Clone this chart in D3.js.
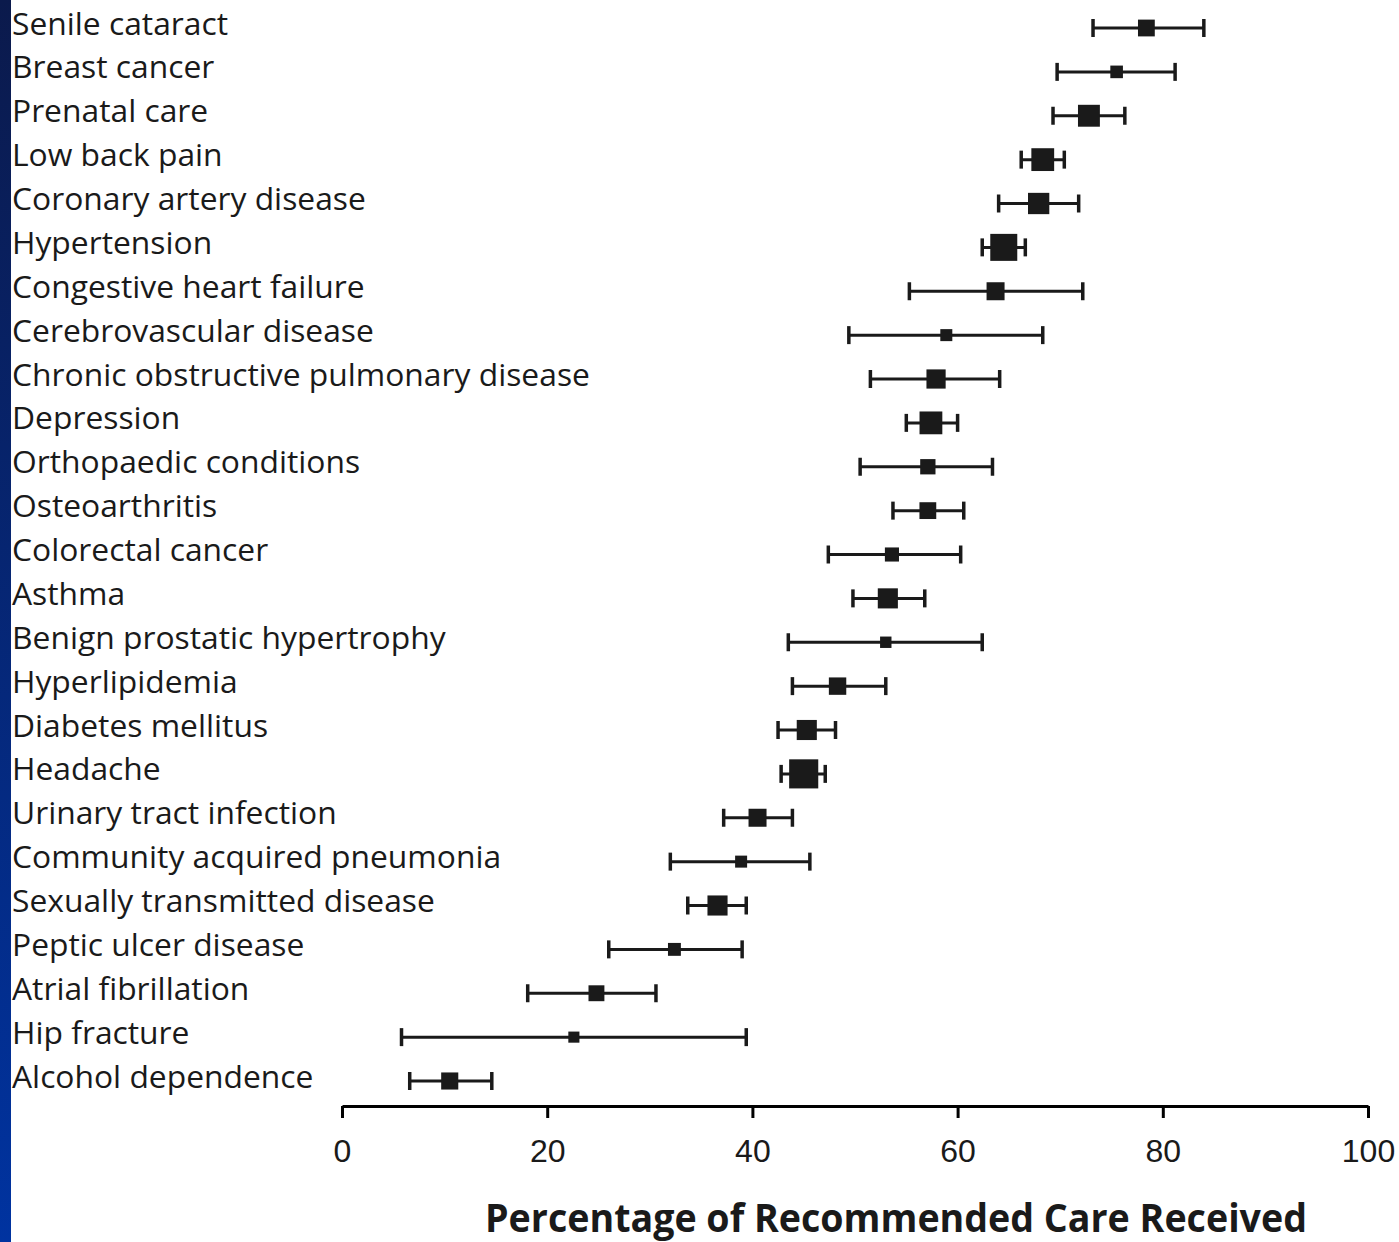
<!DOCTYPE html>
<html>
<head>
<meta charset="utf-8">
<script src="https://cdn.jsdelivr.net/npm/d3@7"></script>
<style>
html,body{margin:0;padding:0;background:#fff;}
svg{display:block;}
</style>
</head>
<body>
<script>
const categories = [
  "Senile cataract","Breast cancer","Prenatal care","Low back pain","Coronary artery disease",
  "Hypertension","Congestive heart failure","Cerebrovascular disease",
  "Chronic obstructive pulmonary disease","Depression","Orthopaedic conditions","Osteoarthritis",
  "Colorectal cancer","Asthma","Benign prostatic hypertrophy","Hyperlipidemia","Diabetes mellitus",
  "Headache","Urinary tract infection","Community acquired pneumonia","Sexually transmitted disease",
  "Peptic ulcer disease","Atrial fibrillation","Hip fracture","Alcohol dependence"
];
const means  = [78.4,75.5,72.8,68.3,67.9,64.5,63.7,58.9,57.9,57.4,57.1,57.1,53.6,53.2,53.0,48.3,45.3,45.0,40.5,38.9,36.6,32.4,24.8,22.6,10.5];
const lower  = [73.2,69.7,69.3,66.2,64.0,62.4,55.3,49.4,51.5,55.0,50.5,53.7,47.4,49.8,43.5,43.9,42.5,42.8,37.2,32.0,33.7,26.0,18.1,5.8,6.6];
const upper  = [84.0,81.2,76.3,70.4,71.8,66.6,72.2,68.3,64.1,60.0,63.4,60.6,60.3,56.8,62.4,53.0,48.1,47.1,43.9,45.6,39.4,39.0,30.6,39.4,14.6];
const weights= [5.6,4.2,7.3,7.6,7.1,9.0,6.0,4.0,6.4,7.6,5.1,5.6,4.7,6.7,3.8,5.8,6.7,9.7,6.0,4.0,6.7,4.3,5.3,3.7,5.7];
const xTicks = [0,20,40,60,80,100];
const xTitle = "Percentage of Recommended Care Received";

const W = 1399, H = 1242;
const data = categories.map((c,i)=>({cat:c, mean:means[i], lo:lower[i], hi:upper[i], w:weights[i]}));

const svg = d3.select("body").append("svg").attr("width",W).attr("height",H);

const defs = svg.append("defs");
const grad = defs.append("linearGradient").attr("id","sidebar").attr("x1",0).attr("y1",0).attr("x2",0).attr("y2",1);
grad.append("stop").attr("offset","0%").attr("stop-color","#0b1a4c");
grad.append("stop").attr("offset","100%").attr("stop-color","#0033a0");
svg.append("rect").attr("x",0).attr("y",0).attr("width",11).attr("height",H).attr("fill","url(#sidebar)");

const x = d3.scaleLinear().domain([0,100]).range([342,1368]);
const y = d3.scalePoint().domain(categories).range([28,1081]);
const s = d3.scaleLinear().domain([0,10]).range([0,30]);

const ink = "#1a1a1a";

// labels
svg.append("g").selectAll("text").data(data).join("text")
  .attr("x",12).attr("y",d=>y(d.cat)+6.5)
  .attr("font-family","'Open Sans', 'Noto Sans', sans-serif")
  .attr("font-size",31.8)
  .attr("fill",ink)
  .text(d=>d.cat);

const g = svg.append("g");
const rows = g.selectAll("g.row").data(data).join("g").attr("class","row");
rows.append("line")
  .attr("x1",d=>x(d.lo)).attr("x2",d=>x(d.hi))
  .attr("y1",d=>y(d.cat)).attr("y2",d=>y(d.cat))
  .attr("stroke",ink).attr("stroke-width",3);
rows.append("line")
  .attr("x1",d=>x(d.lo)).attr("x2",d=>x(d.lo))
  .attr("y1",d=>y(d.cat)-9).attr("y2",d=>y(d.cat)+9)
  .attr("stroke",ink).attr("stroke-width",3.5);
rows.append("line")
  .attr("x1",d=>x(d.hi)).attr("x2",d=>x(d.hi))
  .attr("y1",d=>y(d.cat)-9).attr("y2",d=>y(d.cat)+9)
  .attr("stroke",ink).attr("stroke-width",3.5);
rows.append("rect")
  .attr("x",d=>x(d.mean)-s(d.w)/2).attr("y",d=>y(d.cat)-s(d.w)/2)
  .attr("width",d=>s(d.w)).attr("height",d=>s(d.w))
  .attr("fill",ink);

// axis
const axis = d3.axisBottom(x).tickValues(xTicks).tickSize(12).tickSizeOuter(0).tickPadding(21).tickFormat(d3.format("d"));
const ag = svg.append("g").attr("transform","translate(0,1106)").call(axis);
ag.select(".domain").attr("stroke","#000").attr("stroke-width",3);
ag.selectAll(".tick line").attr("stroke","#000").attr("stroke-width",3);
ag.selectAll(".tick text").attr("fill",ink)
  .attr("font-family","'Liberation Sans', Arimo, sans-serif").attr("font-size",32);

svg.append("text")
  .attr("x",896).attr("y",1232)
  .attr("text-anchor","middle")
  .attr("font-family","'Liberation Sans Narrow', 'Open Sans', sans-serif")
  .attr("font-weight","bold").attr("font-size",39)
  .attr("fill",ink)
  .attr("textLength",822).attr("lengthAdjust","spacingAndGlyphs")
  .text(xTitle);
</script>
</body>
</html>
